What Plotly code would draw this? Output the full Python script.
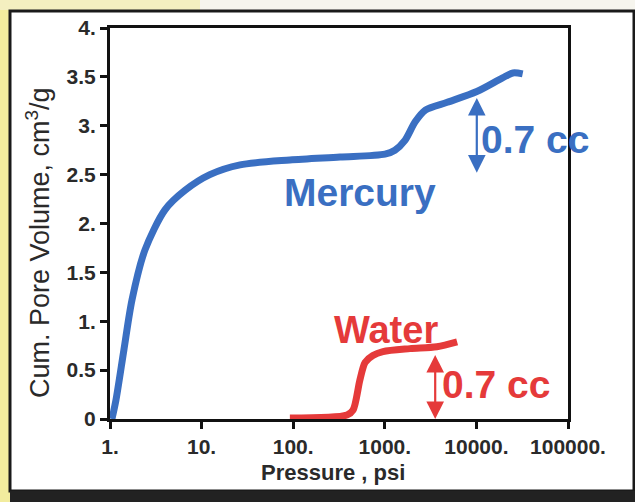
import numpy as np
import plotly.graph_objects as go

# ---- data ----
mercury_p = [1.05, 1.16, 1.42, 1.74, 2.41, 3.98, 6.6, 12.3, 26.3, 92, 324, 1004,
             1290, 1660, 2145, 2770, 4800, 10100, 19300, 25100, 32000]
mercury_v = [0.0, 0.19, 0.71, 1.22, 1.73, 2.14, 2.34, 2.50, 2.60, 2.65, 2.68, 2.71,
             2.75, 2.85, 3.04, 3.16, 3.24, 3.35, 3.49, 3.54, 3.53]
water_p = [92, 387, 450, 535, 610, 741, 955, 1880, 3700, 6160]
water_v = [0.01, 0.04, 0.09, 0.40, 0.58, 0.65, 0.69, 0.72, 0.74, 0.79]

x_tickvals = [1, 10, 100, 1000, 10000, 100000]
x_ticktext = ["1.", "10.", "100.", "1000.", "10000.", "100000."]
y_tickvals = [0, 0.5, 1, 1.5, 2, 2.5, 3, 3.5, 4]
y_ticktext = ["0", "0.5", "1.", "1.5", "2.", "2.5", "3.", "3.5", "4."]

# arrows (pressure, v_top, v_bottom)
hg_arrow = (10100, 3.30, 2.52)
w_arrow = (3550, 0.67, 0.0)

BLUE = "#3a6fc2"
RED = "#e53a3a"
FONT = "Liberation Sans"

W, H = 635, 502
L, R, T, B = 110, 67, 28, 83
pw, ph = W - L - R, H - T - B


def px(x):
    return (x - L) / pw


def py(y):
    return (H - B - y) / ph


fig = go.Figure()
fig.add_trace(go.Scatter(x=mercury_p, y=mercury_v, mode="lines",
                         line=dict(color=BLUE, width=7, shape="spline", smoothing=0.8),
                         hoverinfo="skip"))
fig.add_trace(go.Scatter(x=water_p, y=water_v, mode="lines",
                         line=dict(color=RED, width=7, shape="spline", smoothing=0.8),
                         hoverinfo="skip"))

annos = []
for (p, vt, vb), col in [(hg_arrow, BLUE), (w_arrow, RED)]:
    annos.append(dict(x=np.log10(p), y=vb, ax=np.log10(p), ay=vt, xref="x", yref="y",
                      axref="x", ayref="y", text="", showarrow=True, arrowhead=2,
                      arrowside="end+start", arrowsize=1.6, arrowwidth=2.2,
                      arrowcolor=col, standoff=0, startstandoff=0))

annos += [
    dict(x=np.log10(535), y=2.32, xref="x", yref="y", text="<b>Mercury</b>", showarrow=False,
         xanchor="center", yanchor="middle", font=dict(family=FONT, size=39, color=BLUE)),
    dict(x=4.03, y=2.86, xref="x", yref="y", text="<b>0.7 cc</b>", showarrow=False,
         xanchor="left", yanchor="middle", font=dict(family=FONT, size=39, color=BLUE)),
    dict(x=3.01, y=0.91, xref="x", yref="y", text="<b>Water</b>", showarrow=False,
         xanchor="center", yanchor="middle", font=dict(family=FONT, size=38, color=RED)),
    dict(x=3.60, y=0.35, xref="x", yref="y", text="<b>0.7 cc</b>", showarrow=False,
         xanchor="left", yanchor="middle", font=dict(family=FONT, size=39, color=RED)),
    dict(x=px(38), y=py(243), xref="paper", yref="paper", text="Cum. Pore Volume, cm<sup>3</sup>/g",
         showarrow=False, textangle=-90, xanchor="center", yanchor="middle",
         font=dict(family=FONT, size=27, color="#2a2a2a")),
    dict(x=px(333), y=py(472), xref="paper", yref="paper", text="<b>Pressure , psi</b>",
         showarrow=False, xanchor="center", yanchor="middle",
         font=dict(family=FONT, size=22, color="#2a2a2a")),
]

shapes = [
    dict(type="rect", xref="paper", yref="paper", x0=px(0), x1=px(10), y0=py(502), y1=py(0),
         fillcolor="#f2ec9e", line=dict(width=0), layer="below"),
    dict(type="rect", xref="paper", yref="paper", x0=px(0), x1=px(200), y0=py(10), y1=py(0),
         fillcolor="#f4efc0", line=dict(width=0), layer="below"),
    dict(type="rect", xref="paper", yref="paper", x0=px(10), x1=px(634), y0=py(491), y1=py(11),
         fillcolor="white", line=dict(color="#1a1a1a", width=3), layer="below"),
    dict(type="rect", xref="paper", yref="paper", x0=px(10), x1=px(635), y0=py(502), y1=py(491),
         fillcolor="#222222", line=dict(width=0), layer="below"),
]

fig.update_layout(
    width=W, height=H, margin=dict(l=L, r=R, t=T, b=B),
    paper_bgcolor="#f6f5ee", plot_bgcolor="white", showlegend=False,
    annotations=annos, shapes=shapes,
    xaxis=dict(type="log", range=[0, 5], tickvals=x_tickvals, ticktext=x_ticktext,
               showgrid=False, zeroline=False, showline=True, linecolor="#111", linewidth=3,
               mirror=True, ticks="outside", ticklen=7, tickwidth=3, tickcolor="#111",
               tickfont=dict(family=FONT, size=21, color="#2a2a2a", weight="bold")),
    yaxis=dict(range=[0, 4], tickvals=y_tickvals, ticktext=y_ticktext,
               showgrid=False, zeroline=False, showline=True, linecolor="#111", linewidth=3,
               mirror=True, ticks="outside", ticklen=7, tickwidth=3, tickcolor="#111",
               tickfont=dict(family=FONT, size=21, color="#2a2a2a", weight="bold")),
)

fig.write_html("out.html", config={"displayModeBar": False},
               post_script="document.body.style.margin='0';")
